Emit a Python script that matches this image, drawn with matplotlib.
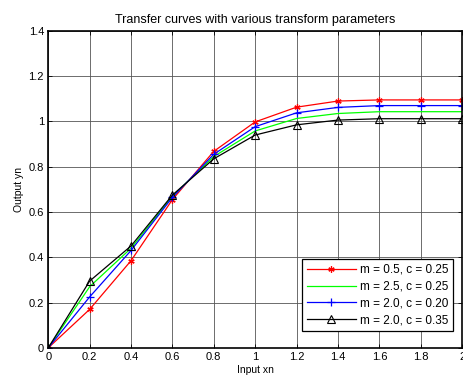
import matplotlib.pyplot as plt
from matplotlib.ticker import FuncFormatter

plt.rcParams['font.family'] = ['Liberation Sans', 'DejaVu Sans']
plt.rcParams['font.size'] = 7.5

xn = [0, 0.2, 0.4, 0.6, 0.8, 1.0, 1.2, 1.4, 1.6, 1.8, 2.0]
yn_m05_c025 = [0, 0.17, 0.385, 0.655, 0.868, 0.998, 1.063, 1.09, 1.095, 1.095, 1.095]
yn_m25_c025 = [0, 0.27, 0.44, 0.67, 0.845, 0.958, 1.013, 1.035, 1.043, 1.043, 1.043]
yn_m20_c020 = [0, 0.225, 0.43, 0.665, 0.855, 0.977, 1.038, 1.062, 1.07, 1.07, 1.07]
yn_m20_c035 = [0, 0.295, 0.45, 0.675, 0.835, 0.94, 0.985, 1.006, 1.012, 1.012, 1.012]

fig = plt.figure(figsize=(4.64, 3.81), dpi=100)
ax = fig.add_axes([0.104, 0.087, 0.892, 0.832])

ax.plot(xn, yn_m05_c025, color='red', lw=0.9, marker=(6, 2, 0), ms=4.5, mew=0.9,
        label='m = 0.5, c = 0.25')
ax.plot(xn, yn_m25_c025, color='#00ff00', lw=0.9, label='m = 2.5, c = 0.25')
ax.plot(xn, yn_m20_c020, color='blue', lw=0.9, marker='+', ms=6, mew=0.9,
        label='m = 2.0, c = 0.20')
ax.plot(xn, yn_m20_c035, color='black', lw=0.9, marker='^', ms=6, mew=0.8,
        mfc='none', label='m = 2.0, c = 0.35')

ax.set_xlim(0, 2)
ax.set_ylim(0, 1.4)
ax.set_xticks(xn)
ax.set_yticks([0, 0.2, 0.4, 0.6, 0.8, 1.0, 1.2, 1.4])
fmt = FuncFormatter(lambda v, p: '%g' % round(v, 2))
ax.xaxis.set_major_formatter(fmt)
ax.yaxis.set_major_formatter(fmt)
ax.tick_params(direction='in', length=3, width=0.6, pad=3, top=True, right=True,
               labelsize=8)
ax.grid(True, color='#555555', lw=0.6, ls='-')
for s in ax.spines.values():
    s.set_linewidth(1.2)

ax.set_title('Transfer curves with various transform parameters', pad=6)
ax.set_xlabel('Input xn', labelpad=2)
ax.set_ylabel('Output yn', labelpad=3)

leg = ax.legend(loc='lower right', bbox_to_anchor=(0.992, 0.035), fancybox=False,
                framealpha=1, edgecolor='black', handlelength=4.2,
                borderpad=0.4, labelspacing=0.4, handletextpad=0.3,
                fontsize=8.5)
leg.get_frame().set_linewidth(0.9)

fig.savefig('out.png', dpi=100)
